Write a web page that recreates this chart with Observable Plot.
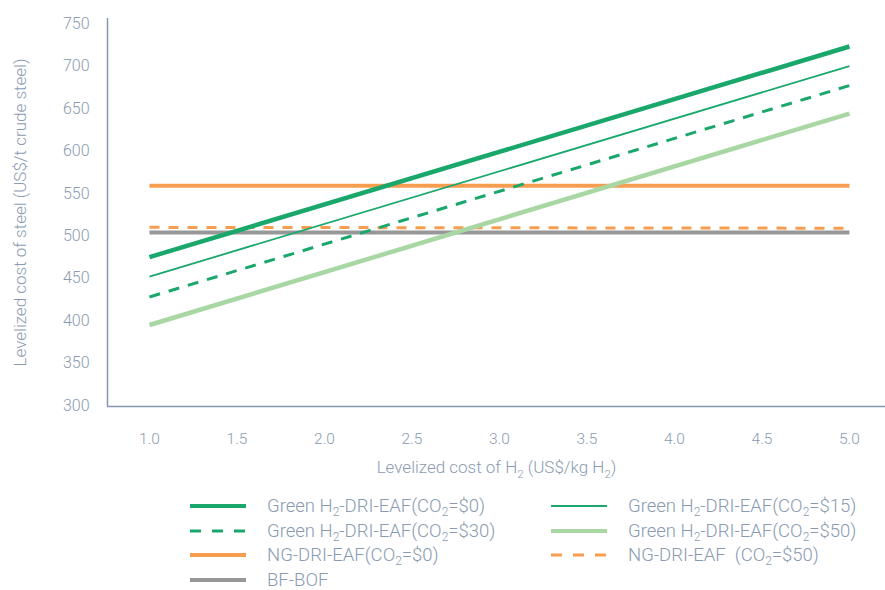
<!DOCTYPE html>
<html>
<head>
<meta charset="utf-8">
<script src="https://cdn.jsdelivr.net/npm/d3@7"></script>
<script src="https://cdn.jsdelivr.net/npm/@observablehq/plot@0.6"></script>
<style>
  html, body { margin: 0; background: #fff; font-family: Roboto, "Noto Sans", sans-serif; overflow: hidden; }
  #chart { width: 885px; height: 485px; }
  .legend { position: relative; width: 885px; height: 105px; font-family: Roboto, sans-serif; font-weight: 300; font-size: 18.5px; color: #8a9bb1; }
  .item { position: absolute; height: 16px; line-height: 16px; display: flex; align-items: center; white-space: nowrap; }
  .item span { line-height: 16px; }
  .item svg { width: 56px; height: 10px; margin-right: 21px; flex: none; }
  .item sub { font-size: 12px; vertical-align: -4px; line-height: 0; }
</style>
</head>
<body>
<div id="chart"></div>
<div class="legend" id="legend"></div>
<script>
const h2Cost = [1.0, 5.0];
const seriesNames = [
  "Green H2-DRI-EAF(CO2=$0)",
  "Green H2-DRI-EAF(CO2=$15)",
  "Green H2-DRI-EAF(CO2=$30)",
  "Green H2-DRI-EAF(CO2=$50)",
  "NG-DRI-EAF(CO2=$0)",
  "NG-DRI-EAF (CO2=$50)",
  "BF-BOF"
];
const green0 = [475, 723];
const green15 = [452, 700];
const green30 = [428, 677];
const green50 = [395, 644];
const ng0 = [559, 559];
const ng50 = [510, 509];
const bfbof = [504, 504];
const xTicks = [1.0, 1.5, 2.0, 2.5, 3.0, 3.5, 4.0, 4.5, 5.0];
const yTicks = [300, 350, 400, 450, 500, 550, 600, 650, 700, 750];

const styles = [
  {color: "#1aa76c", width: 4.5, dash: null},
  {color: "#1aa76c", width: 1.8, dash: null},
  {color: "#1aa76c", width: 3, dash: "11,9"},
  {color: "#a8d7a3", width: 4.5, dash: null},
  {color: "#f79d4f", width: 4, dash: null},
  {color: "#f79d4f", width: 3, dash: "10,9"},
  {color: "#979799", width: 4, dash: null}
];
const allValues = [green0, green15, green30, green50, ng0, ng50, bfbof];

const rows = [];
allValues.forEach((vals, i) => vals.forEach((v, j) => rows.push({series: seriesNames[i], idx: i, x: h2Cost[j], y: v})));

const textColor = "#8a9bb1";
const axisColor = "#8399b3";
const xDomain = [0.76, 5.206];
const yDomain = [299, 756];

const drawOrder = [6, 5, 4, 3, 2, 1, 0];
const lineMarks = drawOrder.map(i => Plot.line(rows.filter(r => r.idx === i), {
  x: "x", y: "y", stroke: styles[i].color, strokeWidth: styles[i].width,
  strokeDasharray: styles[i].dash || undefined, strokeLinecap: "butt"
}));

const plot = Plot.plot({
  width: 885, height: 485,
  marginLeft: 107, marginRight: 0, marginTop: 18, marginBottom: 79,
  style: {fontFamily: "Roboto, sans-serif", fontSize: "15px", fontWeight: 300, color: textColor, background: "#fff"},
  x: {domain: xDomain, ticks: xTicks, tickFormat: d3.format(".1f"), label: null},
  y: {domain: yDomain, ticks: yTicks, label: null},
  marks: [
    Plot.axisX({ticks: xTicks, tickFormat: d3.format(".1f"), tickSize: 0, tickPadding: 26, fill: textColor, fontSize: 15.5, label: null}),
    Plot.axisY({ticks: yTicks, tickSize: 0, tickPadding: 18, fill: textColor, fontSize: 16, label: null}),
    ...lineMarks,
    Plot.ruleX([xDomain[0]], {stroke: axisColor, strokeWidth: 1.5}),
    Plot.ruleY([yDomain[0]], {stroke: axisColor, strokeWidth: 1.5}),
    Plot.text(["Levelized cost of steel (US$/t crude steel)"], {frameAnchor: "left", dx: -87, rotate: -90, fill: textColor, fontSize: 17, textAnchor: "middle", className: "ytitle"}),
    Plot.text(["Levelized cost of H2 (US$/kg H2)"], {frameAnchor: "bottom", dy: 61, fill: textColor, fontSize: 17, textAnchor: "middle", lineAnchor: "middle", className: "xtitle"})
  ]
});
document.getElementById("chart").appendChild(plot);

// subscripts in the x title
d3.select(plot).selectAll("g.xtitle text").each(function() {
  const t = d3.select(this);
  t.text(null);
  t.append("tspan").text("Levelized cost of H");
  t.append("tspan").attr("dy", 5).attr("font-size", 11.5).text("2");
  t.append("tspan").attr("dy", -5).text(" (US$/kg H");
  t.append("tspan").attr("dy", 5).attr("font-size", 11.5).text("2");
  t.append("tspan").attr("dy", -5).text(")");
});

// legend
const legendLabels = [
  "Green H<sub>2</sub>-DRI-EAF(CO<sub>2</sub>=$0)",
  "Green H<sub>2</sub>-DRI-EAF(CO<sub>2</sub>=$15)",
  "Green H<sub>2</sub>-DRI-EAF(CO<sub>2</sub>=$30)",
  "Green H<sub>2</sub>-DRI-EAF(CO<sub>2</sub>=$50)",
  "NG-DRI-EAF(CO<sub>2</sub>=$0)",
  "NG-DRI-EAF &nbsp;(CO<sub>2</sub>=$50)",
  "BF-BOF"
];
const legend = document.getElementById("legend");
legendLabels.forEach((lab, i) => {
  const col = i % 2, row = Math.floor(i / 2);
  const div = document.createElement("div");
  div.className = "item";
  div.style.left = (col === 0 ? 190 : 551) + "px";
  div.style.top = (13 + row * 24.5) + "px";
  const st = styles[i];
  const lw = i === 1 ? 2 : (st.dash ? 3 : 4);
  div.innerHTML = `<svg viewBox="0 0 56 10"><line x1="0" x2="56" y1="5" y2="5" stroke="${st.color}" stroke-width="${lw}" ${st.dash ? 'stroke-dasharray="11,11"' : ''}/></svg><span>${lab}</span>`;
  legend.appendChild(div);
});
</script>
</body>
</html>
